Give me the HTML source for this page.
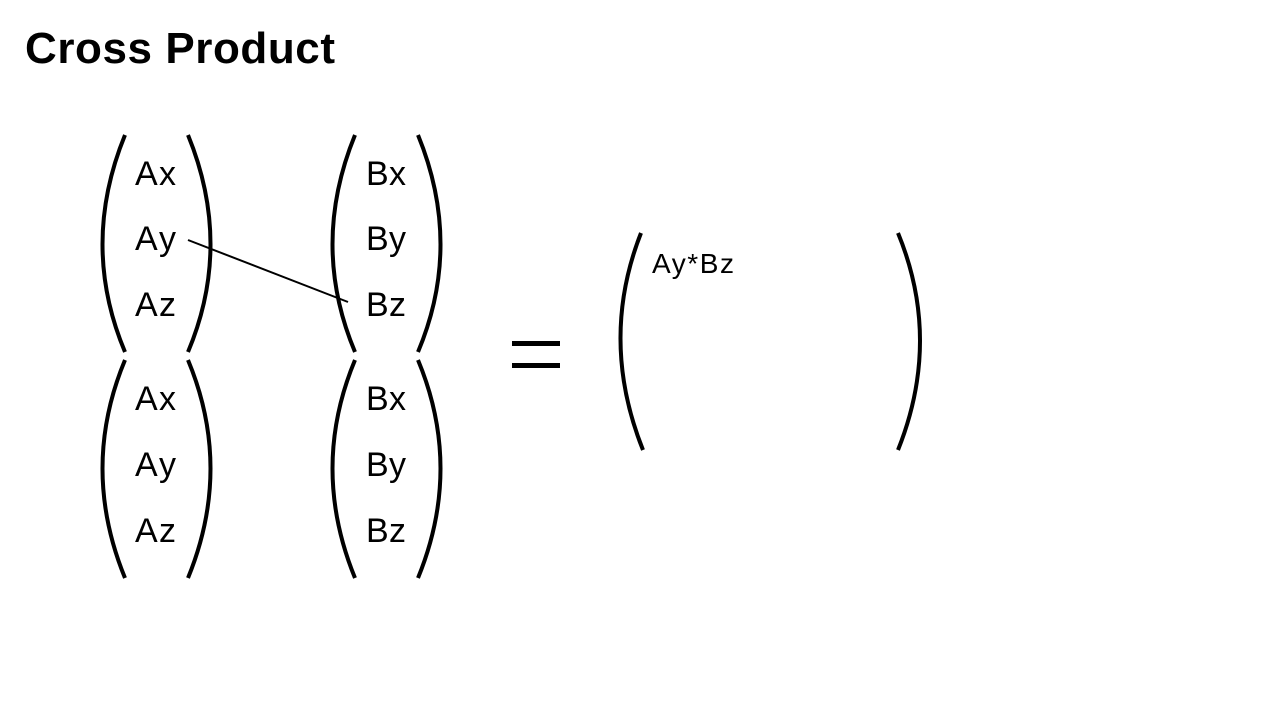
<!DOCTYPE html>
<html><head><meta charset="utf-8"><style>
html,body{margin:0;padding:0;background:#fff;}
svg{display:block;}
text{font-family:"Liberation Sans",sans-serif;fill:#000;}
</style></head><body>
<svg width="1263" height="710" viewBox="0 0 1263 710">
<text x="25" y="63" font-size="44" font-weight="bold" textLength="310">Cross Product</text>
<g fill="none" stroke="#000" stroke-width="4">
<path d="M125,135 Q80,245 125,352"/>
<path d="M188,135 Q233,245 188,352"/>
<path d="M125,360 Q80,468 125,578"/>
<path d="M188,360 Q233,468 188,578"/>
<path d="M355,135 Q310,245 355,352"/>
<path d="M418,135 Q463,245 418,352"/>
<path d="M355,360 Q310,468 355,578"/>
<path d="M418,360 Q463,468 418,578"/>
<path d="M641,233 Q599,340 643,450"/>
<path d="M898,233 Q942,340 898,450"/>
</g>
<g font-size="34">
<text x="135" y="185" textLength="41">Ax</text>
<text x="135" y="250" textLength="41">Ay</text>
<text x="135" y="316" textLength="41">Az</text>
<text x="135" y="410" textLength="41">Ax</text>
<text x="135" y="476" textLength="41">Ay</text>
<text x="135" y="542" textLength="41">Az</text>
</g>
<g font-size="34">
<text x="366" y="185" textLength="40">Bx</text>
<text x="366" y="250" textLength="40">By</text>
<text x="366" y="316" textLength="40">Bz</text>
<text x="366" y="410" textLength="40">Bx</text>
<text x="366" y="476" textLength="40">By</text>
<text x="366" y="542" textLength="40">Bz</text>
</g>
<line x1="188" y1="240" x2="348" y2="302" stroke="#000" stroke-width="2"/>
<g fill="#000">
<rect x="512" y="341" width="48" height="5"/>
<rect x="512" y="363" width="48" height="5"/>
</g>
<text x="652" y="273" font-size="28" textLength="82">Ay*Bz</text>
</svg>
</body></html>
